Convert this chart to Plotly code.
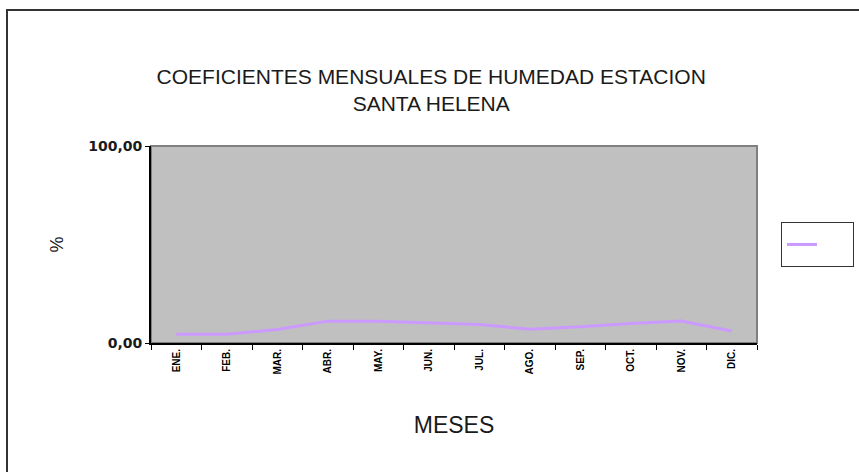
import plotly.graph_objects as go

# data
meses = ["ENE.", "FEB.", "MAR.", "ABR.", "MAY.", "JUN.",
         "JUL.", "AGO.", "SEP.", "OCT.", "NOV.", "DIC."]
coeficientes = [4.4, 4.5, 6.8, 11.1, 11.1, 10.1,
                9.4, 7.0, 8.2, 9.9, 11.2, 6.1]
y_ticks = [0, 100]

W, H = 859, 472
L, R, T, B = 151, 102, 146, 129
pw, ph = W - L - R, H - T - B


def px_x(p):
    return (p - L) / pw


def px_y(p):
    return (H - B - p) / ph


fig = go.Figure()
fig.add_trace(go.Scatter(
    x=meses, y=coeficientes, mode="lines", name="\u00a0" * 4,
    line=dict(color="#CC99FF", width=3),
    showlegend=True,
))

fig.update_layout(
    width=W, height=H,
    margin=dict(l=L, r=R, t=T, b=B, autoexpand=False),
    paper_bgcolor="white",
    plot_bgcolor="#C0C0C0",
    separators=",.",
    font=dict(family="Liberation Sans, Arial, sans-serif", color="#000000"),
    title=dict(
        text="COEFICIENTES MENSUALES DE HUMEDAD ESTACION<br>SANTA HELENA",
        x=0.502, xref="container", xanchor="center",
        y=(H - 84) / H, yref="container", yanchor="middle",
        font=dict(size=21, color="#1a1a1a"),
    ),
    xaxis=dict(
        type="category",
        range=[-0.5, len(meses) - 0.5],
        tickson="boundaries",
        ticks="outside", ticklen=5, tickcolor="black", tickwidth=1,
        tickangle=-90,
        tickfont=dict(size=10, weight="bold"),
        showline=True, linecolor="black", linewidth=2,
        showgrid=False, zeroline=False,
        title=dict(text="MESES", font=dict(size=23, color="#1a1a1a"), standoff=43),
        fixedrange=True,
    ),
    yaxis=dict(
        range=[0, 100],
        tickvals=y_ticks, tickformat=".2f",
        ticks="outside", ticklen=4, tickcolor="black",
        tickfont=dict(size=14, family="DejaVu Sans", weight="bold", color="#1a1a1a"),
        showline=True, linecolor="black", linewidth=2,
        showgrid=False, zeroline=False,
        title=dict(text="%", font=dict(size=18, color="#1a1a1a"), standoff=20),
        fixedrange=True,
    ),
    legend=dict(
        xref="container", yref="container",
        x=781 / W, y=1 - 222 / H, xanchor="left", yanchor="top",
        bordercolor="#333333", borderwidth=1, bgcolor="white",
        font=dict(size=23),
        itemwidth=30,
    ),
    shapes=[
        # gray border of plot area (top and right)
        dict(type="rect", xref="paper", yref="paper", x0=0, x1=1, y0=0, y1=1,
             line=dict(color="#808080", width=2), layer="below"),
        # outer chart frame
        dict(type="rect", xref="paper", yref="paper",
             x0=px_x(7), x1=px_x(900), y0=px_y(10), y1=px_y(520),
             line=dict(color="#333333", width=2)),
    ],
)

fig.write_html("out.html", config={"displayModeBar": False},
               post_script="document.body.style.margin='0px';")
